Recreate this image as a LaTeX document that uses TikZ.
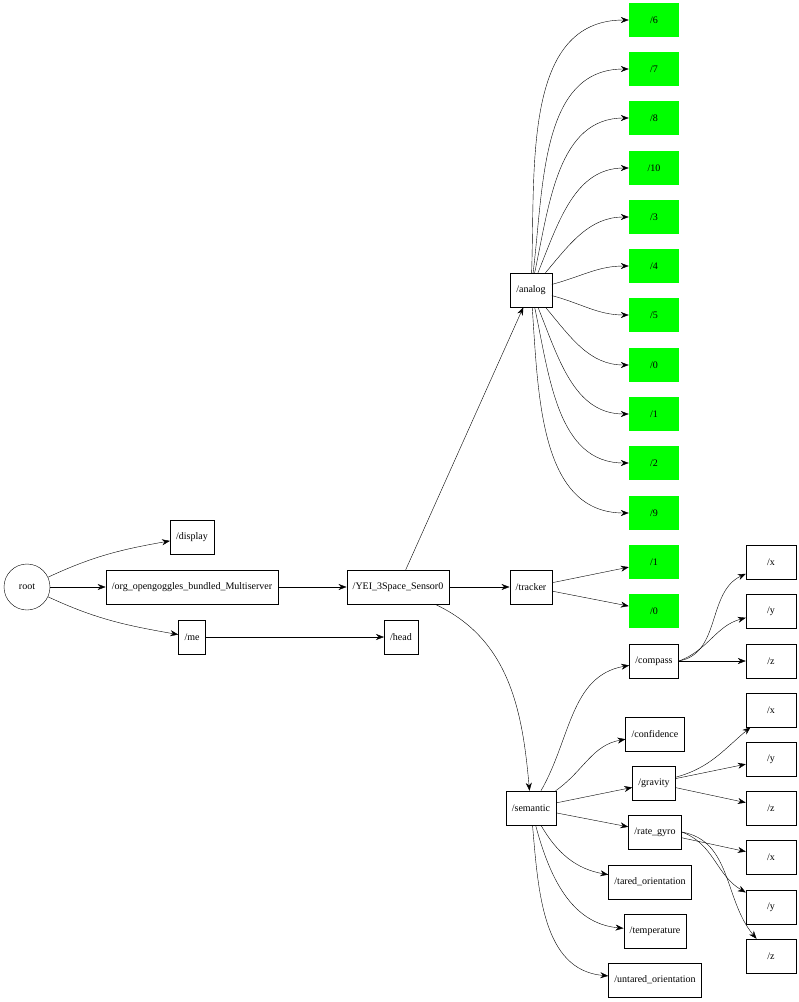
\documentclass[tikz,border=0pt]{standalone}
\usepackage{fontspec}
\setmainfont{Liberation Serif}
\usetikzlibrary{arrows.meta}

\begin{document}
\begin{tikzpicture}[->,>={Stealth[length=8pt,width=6pt]},x=1pt,y=-1pt,
                    thin,font=\fontsize{10}{12}\selectfont]
 \tikzset{box/.style={draw,rectangle,minimum height=34pt,inner xsep=6pt},
          leaf/.style={rectangle,fill=green,minimum width=50pt,minimum height=34pt}}
 \useasboundingbox (0,0) rectangle (799,1002);

 \node [circle,draw,minimum size=46pt,inner sep=0pt] (root) at (27,587) {root};
 \node [box] (display) at (192,537) {/display};
 \node [box] (ms) at (192,587) {/org\_opengoggles\_bundled\_Multiserver};
 \node [box] (me) at (192,637) {/me};
 \node [box] (head) at (401,637) {/head};
 \node [box] (yei) at (398,587) {/YEI\_3Space\_Sensor0};
 \node [box] (analog) at (531,290) {/analog};
 \node [box] (tracker) at (531,587) {/tracker};
 \node [box] (semantic) at (531,808) {/semantic};

 % analog channels
 \foreach \n/\y/\o in {6/20/88,7/69/83,8/118/78,10/168/68,3/217/50,4/266/15,
                      5/315/-15,0/365/-50,1/414/-68,2/463/-78,9/513/-86}{
   \node [leaf] (a\n) at (654,\y) {/\n};
   \draw (analog) to[out=\o,in=180] (a\n);
 }
 \node [leaf] (t1) at (654,562) {/1};
 \node [leaf] (t0) at (654,611) {/0};

 \node [box] (compass) at (654,661) {/compass};
 \node [box] (confidence) at (655,734) {/confidence};
 \node [box] (gravity) at (654,783) {/gravity};
 \node [box] (rategyro) at (655,832) {/rate\_gyro};
 \node [box] (tared) at (650,882) {/tared\_orientation};
 \node [box] (temp) at (655,931) {/temperature};
 \node [box] (untared) at (655,980) {/untared\_orientation};

 \node [box,minimum width=50pt] (cx) at (771,562) {/x};
 \node [box,minimum width=50pt] (cy) at (771,611) {/y};
 \node [box,minimum width=50pt] (cz) at (771,661) {/z};
 \node [box,minimum width=50pt] (gx) at (771,710) {/x};
 \node [box,minimum width=50pt] (gy) at (771,759) {/y};
 \node [box,minimum width=50pt] (gz) at (771,808) {/z};
 \node [box,minimum width=50pt] (rx) at (771,857) {/x};
 \node [box,minimum width=50pt] (ry) at (771,907) {/y};
 \node [box,minimum width=50pt] (rz) at (771,956) {/z};

 \path (root) edge [out=25,in=190] (display)
              edge (ms)
              edge [out=-25,in=170] (me)
       (ms) edge (yei)
       (me) edge (head)
       (yei) edge (analog)
             edge (tracker)
             edge [out=-25,in=95] (semantic)
       (tracker) edge (t1)
                 edge (t0)

       (semantic) edge [out=60,in=190] (compass)
                  edge [out=35,in=190] (confidence)
                  edge (gravity)
                  edge (rategyro)
                  edge [out=-60,in=170] (tared)
                  edge [out=-75,in=175] (temp)
                  edge [out=-85,in=175] (untared)

       (compass.east) edge [out=10,in=205] (cx)
       (compass.east) edge [out=20,in=195] (cy)
       (compass) edge (cz)
       (gravity) edge [out=15,in=220] (gx)
                 edge (gy)
                 edge (gz)
       (rategyro) edge (rx)
       (rategyro.east) edge [out=-20,in=150] (ry)
       (rategyro.east) edge [out=-10,in=130] (rz)
 ;
\end{tikzpicture}
\end{document}
